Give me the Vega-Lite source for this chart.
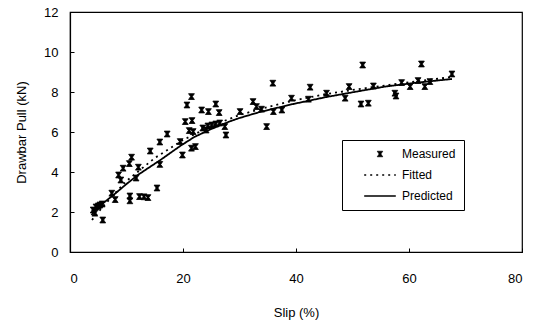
{
  "$schema": "https://vega.github.io/schema/vega-lite/v6.json",
  "width": 452,
  "height": 240,
  "autosize": {"type": "none"},
  "padding": {"left": 70, "top": 12, "right": 22, "bottom": 75},
  "background": "white",
  "config": {
    "view": {"stroke": "black", "strokeWidth": 1.2},
    "font": "Liberation Sans",
    "axis": {
      "grid": false,
      "domainColor": "black",
      "tickColor": "black",
      "labelColor": "black",
      "titleColor": "black",
      "labelFontSize": 13,
      "titleFontSize": 13,
      "titleFontWeight": "normal",
      "labelFont": "Liberation Sans",
      "titleFont": "Liberation Sans",
      "tickSize": -4,
      "domainWidth": 1.2
    }
  },
  "data": {
    "values": [
      {"series": "Measured", "slip": 4.1, "pull": 2.1},
      {"series": "Measured", "slip": 4.4, "pull": 1.94},
      {"series": "Measured", "slip": 4.6, "pull": 2.25},
      {"series": "Measured", "slip": 5.0, "pull": 2.3},
      {"series": "Measured", "slip": 5.3, "pull": 2.35},
      {"series": "Measured", "slip": 5.7, "pull": 2.4},
      {"series": "Measured", "slip": 5.8, "pull": 1.6},
      {"series": "Measured", "slip": 7.4, "pull": 2.94},
      {"series": "Measured", "slip": 8.0, "pull": 2.62},
      {"series": "Measured", "slip": 8.6, "pull": 3.85},
      {"series": "Measured", "slip": 9.0, "pull": 3.6},
      {"series": "Measured", "slip": 9.4, "pull": 4.19},
      {"series": "Measured", "slip": 10.5, "pull": 4.42},
      {"series": "Measured", "slip": 10.9, "pull": 4.74},
      {"series": "Measured", "slip": 10.6, "pull": 2.8},
      {"series": "Measured", "slip": 10.6, "pull": 2.56},
      {"series": "Measured", "slip": 11.7, "pull": 3.7},
      {"series": "Measured", "slip": 12.1, "pull": 4.24},
      {"series": "Measured", "slip": 12.3, "pull": 2.77},
      {"series": "Measured", "slip": 13.1, "pull": 2.76},
      {"series": "Measured", "slip": 13.8, "pull": 2.72},
      {"series": "Measured", "slip": 14.2, "pull": 5.05},
      {"series": "Measured", "slip": 15.4, "pull": 3.2},
      {"series": "Measured", "slip": 15.9, "pull": 4.38},
      {"series": "Measured", "slip": 15.9, "pull": 5.5},
      {"series": "Measured", "slip": 17.2, "pull": 5.9},
      {"series": "Measured", "slip": 19.5, "pull": 5.52},
      {"series": "Measured", "slip": 19.9, "pull": 4.85},
      {"series": "Measured", "slip": 20.4, "pull": 6.52},
      {"series": "Measured", "slip": 20.7, "pull": 7.35},
      {"series": "Measured", "slip": 21.1, "pull": 6.07},
      {"series": "Measured", "slip": 21.5, "pull": 5.19},
      {"series": "Measured", "slip": 21.5, "pull": 7.77},
      {"series": "Measured", "slip": 21.6, "pull": 6.57},
      {"series": "Measured", "slip": 21.8, "pull": 6.02},
      {"series": "Measured", "slip": 22.2, "pull": 5.27},
      {"series": "Measured", "slip": 23.3, "pull": 7.1},
      {"series": "Measured", "slip": 23.5, "pull": 6.2},
      {"series": "Measured", "slip": 24.1, "pull": 6.1},
      {"series": "Measured", "slip": 24.4, "pull": 6.3},
      {"series": "Measured", "slip": 24.5, "pull": 7.02},
      {"series": "Measured", "slip": 25.1, "pull": 6.35},
      {"series": "Measured", "slip": 25.8, "pull": 6.4},
      {"series": "Measured", "slip": 25.8, "pull": 7.4},
      {"series": "Measured", "slip": 26.4, "pull": 6.97},
      {"series": "Measured", "slip": 26.5, "pull": 6.45},
      {"series": "Measured", "slip": 27.4, "pull": 6.27},
      {"series": "Measured", "slip": 27.6, "pull": 5.85},
      {"series": "Measured", "slip": 30.1, "pull": 7.02},
      {"series": "Measured", "slip": 32.4, "pull": 7.52},
      {"series": "Measured", "slip": 33.0, "pull": 7.27},
      {"series": "Measured", "slip": 33.9, "pull": 7.14},
      {"series": "Measured", "slip": 34.8, "pull": 6.27},
      {"series": "Measured", "slip": 35.9, "pull": 8.44},
      {"series": "Measured", "slip": 36.0, "pull": 7.02},
      {"series": "Measured", "slip": 37.5, "pull": 7.1},
      {"series": "Measured", "slip": 39.2, "pull": 7.69},
      {"series": "Measured", "slip": 42.2, "pull": 7.64},
      {"series": "Measured", "slip": 42.5, "pull": 8.24},
      {"series": "Measured", "slip": 45.4, "pull": 7.94},
      {"series": "Measured", "slip": 48.7, "pull": 7.69},
      {"series": "Measured", "slip": 49.4, "pull": 8.27},
      {"series": "Measured", "slip": 51.5, "pull": 7.4},
      {"series": "Measured", "slip": 51.8, "pull": 9.35},
      {"series": "Measured", "slip": 52.8, "pull": 7.44},
      {"series": "Measured", "slip": 53.7, "pull": 8.3},
      {"series": "Measured", "slip": 57.5, "pull": 7.94},
      {"series": "Measured", "slip": 57.7, "pull": 7.8},
      {"series": "Measured", "slip": 58.7, "pull": 8.47},
      {"series": "Measured", "slip": 60.2, "pull": 8.27},
      {"series": "Measured", "slip": 61.6, "pull": 8.57},
      {"series": "Measured", "slip": 62.2, "pull": 9.4},
      {"series": "Measured", "slip": 62.8, "pull": 8.27},
      {"series": "Measured", "slip": 63.7, "pull": 8.52},
      {"series": "Measured", "slip": 67.6, "pull": 8.9},
      {"series": "Fitted", "slip": 3.9, "pull": 1.6},
      {"series": "Fitted", "slip": 5, "pull": 2.0},
      {"series": "Fitted", "slip": 7.5, "pull": 2.8},
      {"series": "Fitted", "slip": 10, "pull": 3.55},
      {"series": "Fitted", "slip": 15, "pull": 4.7},
      {"series": "Fitted", "slip": 20, "pull": 5.6},
      {"series": "Fitted", "slip": 25, "pull": 6.3},
      {"series": "Fitted", "slip": 30, "pull": 6.85},
      {"series": "Fitted", "slip": 35, "pull": 7.25},
      {"series": "Fitted", "slip": 40, "pull": 7.6},
      {"series": "Fitted", "slip": 45, "pull": 7.88},
      {"series": "Fitted", "slip": 50, "pull": 8.1},
      {"series": "Fitted", "slip": 55, "pull": 8.3},
      {"series": "Fitted", "slip": 60, "pull": 8.48},
      {"series": "Fitted", "slip": 67.6, "pull": 8.75},
      {"series": "Predicted", "slip": 3.8, "pull": 1.85},
      {"series": "Predicted", "slip": 5, "pull": 2.25},
      {"series": "Predicted", "slip": 7.7, "pull": 2.85},
      {"series": "Predicted", "slip": 10, "pull": 3.4},
      {"series": "Predicted", "slip": 12, "pull": 3.85},
      {"series": "Predicted", "slip": 16, "pull": 4.6},
      {"series": "Predicted", "slip": 19.5, "pull": 5.3},
      {"series": "Predicted", "slip": 22, "pull": 5.75},
      {"series": "Predicted", "slip": 25, "pull": 6.15},
      {"series": "Predicted", "slip": 28, "pull": 6.5},
      {"series": "Predicted", "slip": 30, "pull": 6.7},
      {"series": "Predicted", "slip": 33.6, "pull": 7.0},
      {"series": "Predicted", "slip": 39.5, "pull": 7.4},
      {"series": "Predicted", "slip": 45.4, "pull": 7.75},
      {"series": "Predicted", "slip": 51.3, "pull": 8.05},
      {"series": "Predicted", "slip": 56, "pull": 8.28},
      {"series": "Predicted", "slip": 60.8, "pull": 8.45},
      {"series": "Predicted", "slip": 67.6, "pull": 8.65}
    ]
  },
  "encoding": {
    "x": {
      "field": "slip",
      "type": "quantitative",
      "title": "Slip (%)",
      "scale": {"domain": [0, 80], "nice": false},
      "axis": {"values": [0, 20, 40, 60, 80], "labelPadding": 24, "titlePadding": 21}
    },
    "y": {
      "field": "pull",
      "type": "quantitative",
      "title": "Drawbar Pull (kN)",
      "scale": {"domain": [0, 12], "nice": false},
      "axis": {"values": [0, 2, 4, 6, 8, 10, 12], "labelPadding": 16, "titlePadding": 15}
    },
    "color": {
      "field": "series",
      "type": "nominal",
      "scale": {"domain": ["Measured", "Fitted", "Predicted"], "range": ["black", "black", "black"]},
      "legend": {
        "title": null,
        "orient": "none",
        "legendX": 272,
        "legendY": 128,
        "strokeColor": "black",
        "fillColor": "white",
        "padding": 8,
        "labelFontSize": 12,
        "labelColor": "black",
        "labelFont": "Liberation Sans",
        "symbolOffset": 24,
        "labelOffset": 16,
        "rowPadding": 9,
        "encode": {
          "symbols": {
            "update": {
              "shape": {"signal": "datum.value === 'Measured' ? 'M-1,-1H1L0.3,0L1,1H-1L-0.3,0Z' : 'stroke'"},
              "strokeDash": {"signal": "datum.value === 'Fitted' ? [2, 4] : [1, 0]"},
              "size": {"signal": "datum.value === 'Measured' ? 30 : 1000"},
              "stroke": {"value": "black"},
              "fill": {"value": "black"},
              "strokeWidth": {"signal": "datum.value === 'Measured' ? 0.8 : 1.5"}
            }
          }
        }
      }
    }
  },
  "layer": [
    {
      "transform": [{"filter": "datum.series !== 'Measured'"}],
      "mark": {"type": "line", "strokeWidth": 1.8},
      "encoding": {
        "strokeDash": {
          "field": "series",
          "type": "nominal",
          "scale": {"domain": ["Measured", "Fitted", "Predicted"], "range": [[1, 0], [2, 4], [1, 0]]},
          "legend": null
        }
      }
    },
    {
      "transform": [{"filter": "datum.series === 'Measured'"}],
      "mark": {"type": "point", "filled": true, "shape": "M-1,-1H1L0.3,0L1,1H-1L-0.3,0Z", "size": 34, "stroke": "black", "strokeWidth": 0.8, "opacity": 1}
    }
  ]
}
